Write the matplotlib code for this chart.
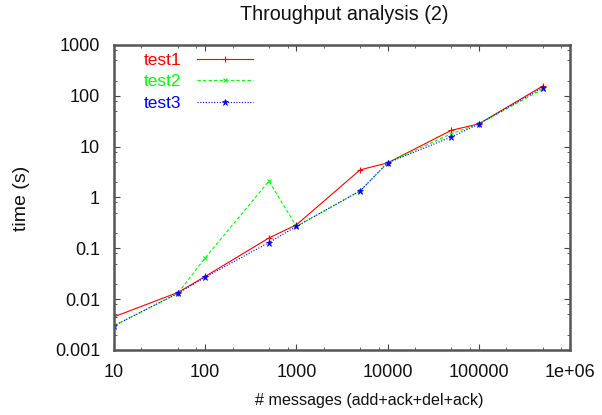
import numpy as np
import matplotlib.pyplot as plt
from matplotlib.ticker import FixedLocator, FixedFormatter, LogLocator, NullFormatter

# data
messages = [10, 50, 100, 500, 1000, 5000, 10000, 50000, 100000, 500000]
test1 = [0.0045, 0.0135, 0.028, 0.16, 0.29, 3.5, 4.8, 21, 28, 155]
test2 = [0.003, 0.013, 0.065, 2.1, 0.27, 1.35, 4.8, 18, 28, 135]
test3 = [0.003, 0.013, 0.027, 0.13, 0.27, 1.35, 4.8, 15.5, 28, 145]

xticks = [10, 100, 1000, 10000, 100000, 1000000]
xlabels = ['10', '100', '1000', '10000', '100000', '1e+06']
yticks = [0.001, 0.01, 0.1, 1, 10, 100, 1000]
ylabels = ['0.001', '0.01', '0.1', '1', '10', '100', '1000']

plt.rcParams['font.family'] = ['Liberation Sans', 'DejaVu Sans']
fs = 13
W, H = 602, 415
fig = plt.figure(figsize=(6.02, 4.15), dpi=100)
ax = fig.add_axes([114 / W, 65 / H, 456 / W, 305 / H])

ax.plot(messages, test1, color='#ff0000', lw=0.8, ls='-', marker='+', ms=4, mew=0.8, label='test1')
ax.plot(messages, test2, color='#00ff00', lw=0.8, ls=(0, (3, 2)), marker='x', ms=3.5, mew=0.8, label='test2')
ax.plot(messages, test3, color='#0000ff', lw=0.8, ls=(0, (1, 1.5)), marker='*', ms=5, mew=0.5, label='test3')

ax.set_xscale('log')
ax.set_yscale('log')
ax.set_xlim(10, 1e6)
ax.set_ylim(0.001, 1000)
ax.xaxis.set_major_locator(FixedLocator(xticks))
ax.xaxis.set_major_formatter(FixedFormatter(xlabels))
ax.yaxis.set_major_locator(FixedLocator(yticks))
ax.yaxis.set_major_formatter(FixedFormatter(ylabels))
ax.xaxis.set_minor_locator(LogLocator(base=10, subs=(2, 5, 8), numticks=20))
ax.yaxis.set_minor_locator(LogLocator(base=10, subs=(2, 5, 8), numticks=20))
ax.xaxis.set_minor_formatter(NullFormatter())
ax.yaxis.set_minor_formatter(NullFormatter())
ax.tick_params(which='both', direction='in', top=True, right=True, labelsize=fs,
               colors='#444444', labelcolor='#111111')
ax.tick_params(which='major', length=4, width=0.8, pad=10)
ax.tick_params(which='minor', length=2.5, width=0.6)
for s in ax.spines.values():
    s.set_linewidth(1.8)
    s.set_color('#555555')

# axis titles and chart title placed like the gnuplot output
fig.text(369 / W, 1 - 400 / H, '# messages (add+ack+del+ack)', ha='center', va='center',
         fontsize=11.6, color='#111111')
fig.text(21 / W, 1 - 198 / H, 'time (s)', ha='center', va='center', rotation=90,
         fontsize=14, color='#111111')
fig.text(344 / W, 1 - 15 / H, 'Throughput analysis (2)', ha='center', va='center',
         fontsize=14.2, color='#111111')

leg = ax.legend(loc='upper left', frameon=False, markerfirst=False, labelcolor='linecolor',
                fontsize=12.5, handlelength=3.2, handletextpad=0.9, borderpad=0,
                borderaxespad=0, labelspacing=0.35,
                bbox_to_anchor=(144 / W, 1 - 53 / H), bbox_transform=fig.transFigure)

fig.savefig('out.png', dpi=100)
